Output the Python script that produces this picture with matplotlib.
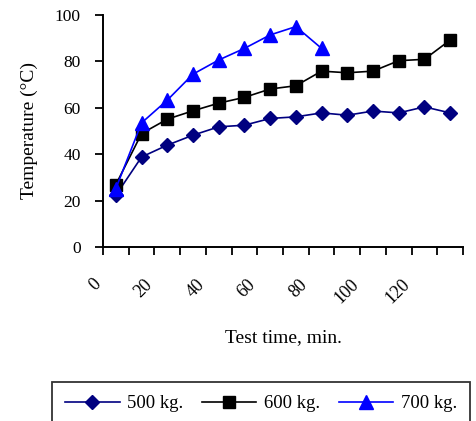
import numpy as np
import matplotlib.pyplot as plt

plt.rcParams['font.family'] = ['Liberation Serif', 'DejaVu Serif']

# test time (min) at the middle of each 10-min interval
time = [5, 15, 25, 35, 45, 55, 65, 75, 85, 95, 105, 115, 125, 135]
temp_500 = [22.3, 38.8, 43.9, 48.2, 51.8, 52.5, 55.4, 56.1, 57.8, 56.8, 58.6, 57.8, 60.4, 57.8]
temp_600 = [26.9, 48.9, 55.1, 58.7, 62.0, 64.5, 68.1, 69.5, 75.8, 75.1, 75.8, 80.3, 80.9, 89.2]
temp_700 = [25.2, 53.5, 63.3, 74.5, 80.6, 85.6, 91.4, 95.0, 85.6]
xtick_labels = ['0', '20', '40', '60', '80', '100', '120']

fig = plt.figure(figsize=(4.76, 4.21), dpi=100)
ax = fig.add_axes([0.2164, 0.4133, 0.7563, 0.5511])

ax.plot(time, temp_500, color='#000080', lw=1.2, marker='D', ms=7, label='500 kg.')
ax.plot(time, temp_600, color='black', lw=1.2, marker='s', ms=8, label='600 kg.')
ax.plot(time[:len(temp_700)], temp_700, color='#0000FF', lw=1.2, marker='^', ms=10.5, label='700 kg.')

ax.set_xlim(0, 140)
ax.set_ylim(0, 100)
ax.set_xticks(np.arange(0, 141, 10))
ax.set_xticklabels([])
for i, lab in enumerate(xtick_labels):
    ax.text(i * 20 - 4, -12.5, lab, rotation=45, ha='right', va='top',
            rotation_mode='anchor', fontsize=13, transform=ax.transData)
ax.set_yticks(np.arange(0, 101, 20))
ax.tick_params(axis='y', labelsize=12.5, length=6, width=1.3, direction='out', pad=10)
ax.tick_params(axis='x', length=6, width=1.3, direction='out')

for s in ['top', 'right']:
    ax.spines[s].set_visible(False)
for s in ['left', 'bottom']:
    ax.spines[s].set_linewidth(1.4)

ax.set_ylabel('Temperature (°C)', fontsize=14, labelpad=12)
fig.text(0.595, 0.197, 'Test time, min.', ha='center', va='center', fontsize=14)

leg = fig.legend(loc='upper left', bbox_to_anchor=(52 / 476, 1 - 382 / 421),
                 ncol=3, fontsize=13.5, frameon=True, fancybox=False,
                 handlelength=2.9, columnspacing=1.0, handletextpad=0.4,
                 borderaxespad=0, borderpad=0.7)
leg.get_frame().set_edgecolor('black')
leg.get_frame().set_linewidth(1.3)

fig.savefig('out.png', dpi=100)
